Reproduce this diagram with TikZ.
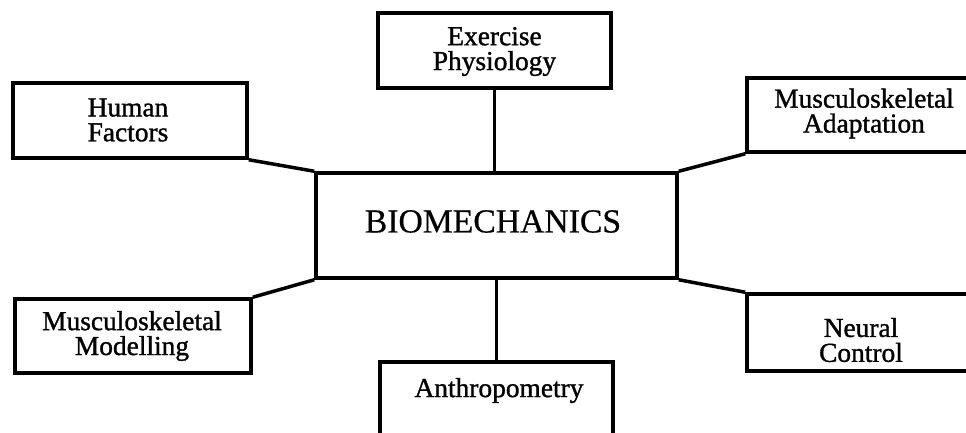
\documentclass[tikz,border=0pt]{standalone}
\usepackage{fontspec}
\setmainfont{Liberation Serif}
\newfontfamily\lblfont{Liberation Serif}[FakeBold=1.2]
\newfontfamily\bigfont{Liberation Serif}[FakeBold=0.5]
\begin{document}
\begin{tikzpicture}[x=1bp,y=-1bp,
  box/.style={draw=black,line width=3.5bp,fill=white,inner sep=0pt,rectangle},
  conn/.style={draw=black,line width=3.5bp},
  lbl/.style={inner sep=0pt,align=center,font=\lblfont\fontsize{27.5}{25}\selectfont},
  bigl/.style={inner sep=0pt,font=\bigfont\fontsize{33.8}{36}\selectfont}]
\useasboundingbox (0,0) rectangle (966,432);
\clip (0,0) rectangle (966,432);
\fill[white] (0,0) rectangle (966,432);
% boxes
\node[box,minimum width=361bp,minimum height=105bp] (bio) at (496.5,225.5) {};
\node[box,minimum width=234bp,minimum height=75bp] (human) at (130,120.5) {};
\node[box,minimum width=233bp,minimum height=75bp] (exer) at (494.5,50.5) {};
\node[box,minimum width=233bp,minimum height=74bp] (adapt) at (863.5,115) {};
\node[box,minimum width=236bp,minimum height=74bp] (model) at (133,336) {};
\node[box,minimum width=233bp,minimum height=77bp] (neural) at (863.5,332.5) {};
\node[box,minimum width=233bp,minimum height=75bp] (anthro) at (496.5,399.5) {};
% texts
\node[bigl] (biot) at (493,221.5) {BIOMECHANICS};
\node[lbl] (humant) at (128,120) {Human\\Factors};
\node[lbl] (exert) at (494.5,51.5) {Exercise\\Physiology};
\node[lbl] (adaptt) at (864,113.5) {Musculoskeletal\\Adaptation};
\node[lbl] (modelt) at (132,336) {Musculoskeletal\\Modelling};
\node[lbl] (neuralt) at (861,340) {Neural\\Control};
\node[lbl] (anthrot) at (499,390.5) {Anthropometry};
% connectors
\draw[conn,line join=round] (human.south east) -- (bio.north west);
\draw[conn,line join=round] (adapt.south west) -- (bio.north east);
\draw[conn,line join=round] (model.north east) -- (bio.south west);
\draw[conn,line join=round] (neural.north west) -- (bio.south east);
\draw[conn] (exer.south) -- (exer.south |- bio.north);
\draw[conn] (anthro.north) -- (anthro.north |- bio.south);
\end{tikzpicture}
\end{document}
